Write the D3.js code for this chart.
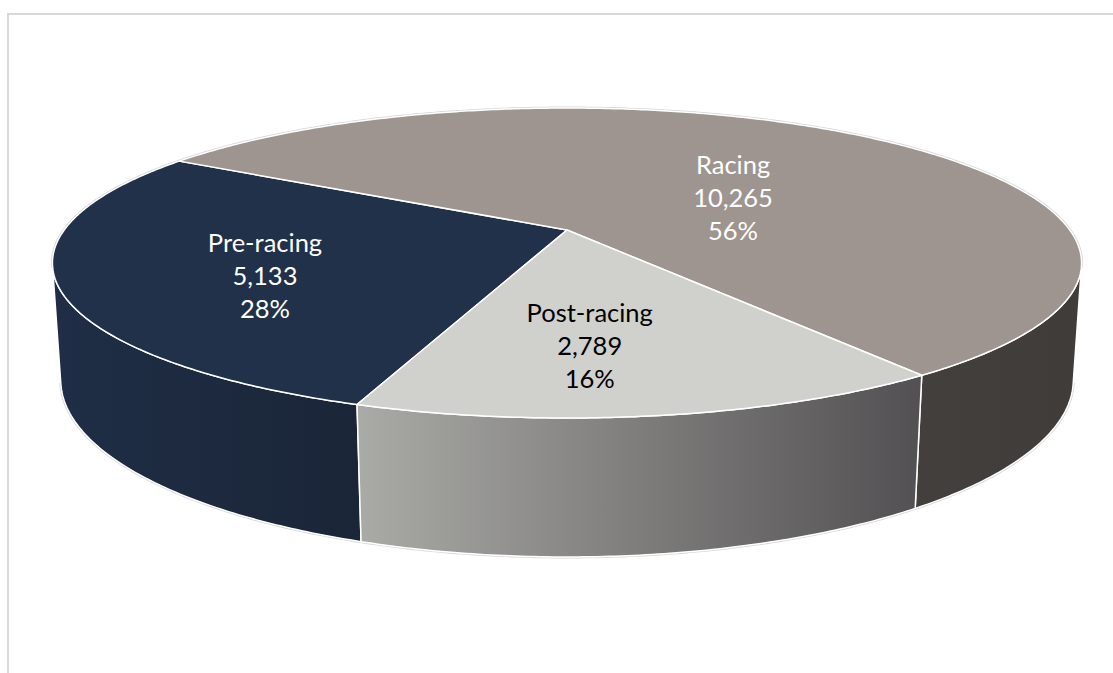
<!DOCTYPE html>
<html><head><meta charset="utf-8">
<script src="https://cdn.jsdelivr.net/npm/d3@7"></script>
<style>html,body{margin:0;padding:0;background:#fff;overflow:hidden} svg{display:block}</style>
</head><body>
<svg id="chart" width="1113" height="673"></svg>
<script>
// ---- data ----
const categories = ["Pre-racing", "Racing", "Post-racing"];
const values = [5133, 10265, 2789];
const percentLabels = ["28%", "56%", "16%"];

// ---- styles ----
const topColors = ["#203149", "#9e9590", "#d0d0cc"];
const sideStart = ["#1f2e46", "#433f3c", "#aaaaa6"];
const sideEnd   = ["#1a2537", "#403c39", "#525052"];
const labelColors = ["#ffffff", "#ffffff", "#000000"];
const labelNudge = [[-17, 0], [3, -15], [-31, -2]];

const svg = d3.select("#chart");
const W = 1113, H = 673;

// chart frame
svg.append("rect").attr("x", 8).attr("y", 14).attr("width", W + 20).attr("height", H + 20)
  .attr("fill", "none").attr("stroke", "#d9d9d9").attr("stroke-width", 2);

// ---- 3D perspective projection ----
const cx = 567, cy = 230;
const s = 0.2943, c = Math.sqrt(1 - s * s), D = 4.489, f = 2256.9, h = 0.2383;
function project(a, r, y) {
  const X = r * Math.sin(a), Z = -r * Math.cos(a);
  const zc = y * s + Z * c, yc = -y * c + Z * s;
  const k = f / (D - zc);
  return [cx + X * k, cy + yc * k];
}
function arcPts(a0, a1, y) {
  const n = Math.max(2, Math.ceil(Math.abs(a1 - a0) / 0.01));
  const pts = [];
  for (let i = 0; i <= n; i++) pts.push(project(a0 + (a1 - a0) * i / n, 1, y));
  return pts;
}

const deg = d => d * Math.PI / 180;
const start = deg(199.5);
const pie = d3.pie().sort(null).value(d => d).startAngle(start).endAngle(start + 2 * Math.PI);
const arcs = pie(values);

const line = d3.line().curve(d3.curveLinear);

// visible side range
const t = 1 / (D * c);
const v0 = Math.acos(-t), v1 = 2 * Math.PI - Math.acos(-t);

const defs = svg.append("defs");

// silhouette (light outline)
svg.append("path")
  .attr("d", line(arcPts(v1 - 2 * Math.PI, v0, 0).concat(arcPts(v0, v1, -h).reverse())) + "Z")
  .attr("fill", "none").attr("stroke", "#d6d6d6").attr("stroke-width", 3);

// walls
const wallG = svg.append("g");
arcs.forEach((d, i) => {
  for (let k = -1; k <= 1; k++) {
    const lo = Math.max(d.startAngle, v0 + 2 * Math.PI * k);
    const hi = Math.min(d.endAngle, v1 + 2 * Math.PI * k);
    if (hi <= lo) continue;
    const topPts = arcPts(lo, hi, 0);
    const botPts = arcPts(lo, hi, -h);
    const all = topPts.concat(botPts.slice().reverse());
    const xs = all.map(p => p[0]);
    const gid = "wallgrad" + i + "_" + (k + 1);
    const g = defs.append("linearGradient").attr("id", gid)
      .attr("gradientUnits", "userSpaceOnUse")
      .attr("x1", d3.min(xs)).attr("x2", d3.max(xs)).attr("y1", 0).attr("y2", 0);
    g.append("stop").attr("offset", 0).attr("stop-color", sideStart[i]);
    g.append("stop").attr("offset", 1).attr("stop-color", sideEnd[i]);
    wallG.append("path").attr("d", line(all) + "Z")
      .attr("fill", `url(#${gid})`).attr("stroke", "#ffffff").attr("stroke-width", 1.5)
      .attr("stroke-linejoin", "round");
  }
});

// top faces
const topG = svg.append("g");
const centroids = [];
arcs.forEach((d, i) => {
  const pts = [project(0, 0, 0)].concat(arcPts(d.startAngle, d.endAngle, 0));
  centroids.push(d3.polygonCentroid(pts));
  topG.append("path").attr("d", line(pts) + "Z")
    .attr("fill", topColors[i]).attr("stroke", "#ffffff").attr("stroke-width", 1.5)
    .attr("stroke-linejoin", "round");
});

// labels
const fmt = d3.format(",");
const lineH = 33.3;
const labelG = svg.append("g")
  .attr("font-family", "Lato, 'Open Sans', sans-serif").attr("font-size", 25.5)
  .attr("text-anchor", "middle");
arcs.forEach((d, i) => {
  const x = centroids[i][0] + labelNudge[i][0];
  const y = centroids[i][1] + labelNudge[i][1];
  const txt = labelG.append("text").attr("fill", labelColors[i]);
  [categories[i], fmt(values[i]), percentLabels[i]].forEach((str, j) => {
    txt.append("tspan").attr("x", x).attr("y", y + 9 + (j - 1) * lineH).text(str);
  });
});
</script>
</body></html>
